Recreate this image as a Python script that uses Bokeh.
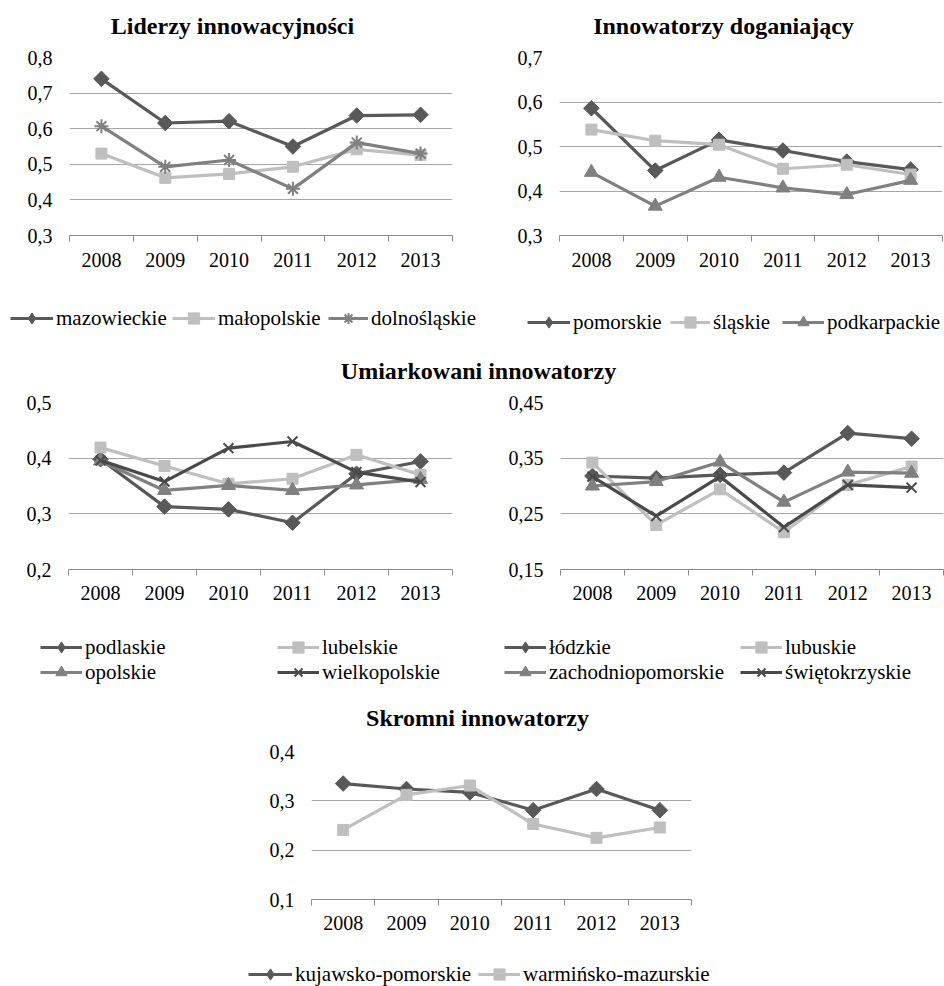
import math

from bokeh.core.properties import value
from bokeh.embed import file_html
from bokeh.layouts import column, row
from bokeh.models import (CustomJSTickFormatter, FixedTicker, Label, Legend,
                          LegendItem, Range1d)
from bokeh.plotting import figure
from bokeh.resources import INLINE

# ---------------------------------------------------------------- data
years = [2008, 2009, 2010, 2011, 2012, 2013]

# Liderzy innowacyjności
mazowieckie = [0.740, 0.616, 0.621, 0.550, 0.637, 0.639]
malopolskie = [0.530, 0.462, 0.473, 0.493, 0.542, 0.526]
dolnoslaskie = [0.607, 0.493, 0.512, 0.431, 0.561, 0.530]

# Innowatorzy doganiający
pomorskie = [0.586, 0.446, 0.515, 0.491, 0.466, 0.448]
slaskie = [0.538, 0.513, 0.504, 0.450, 0.459, 0.437]
podkarpackie = [0.442, 0.366, 0.431, 0.407, 0.392, 0.424]

# Umiarkowani innowatorzy (left)
podlaskie = [0.398, 0.313, 0.308, 0.284, 0.372, 0.394]
lubelskie = [0.419, 0.386, 0.354, 0.363, 0.406, 0.370]
opolskie = [0.395, 0.342, 0.351, 0.342, 0.352, 0.362]
wielkopolskie = [0.396, 0.358, 0.418, 0.430, 0.375, 0.357]

# Umiarkowani innowatorzy (right)
lodzkie = [0.318, 0.314, 0.320, 0.324, 0.395, 0.385]
lubuskie = [0.342, 0.230, 0.294, 0.217, 0.302, 0.335]
zachodniopomorskie = [0.300, 0.308, 0.343, 0.271, 0.325, 0.323]
swietokrzyskie = [0.317, 0.246, 0.317, 0.226, 0.302, 0.297]

# Skromni innowatorzy
kujawsko_pomorskie = [0.335, 0.324, 0.317, 0.281, 0.324, 0.281]
warminsko_mazurskie = [0.241, 0.312, 0.331, 0.253, 0.225, 0.246]

ticks_a = [0.3, 0.4, 0.5, 0.6, 0.7, 0.8]
ticks_b = [0.3, 0.4, 0.5, 0.6, 0.7]
ticks_c = [0.2, 0.3, 0.4, 0.5]
ticks_d = [0.15, 0.25, 0.35, 0.45]
ticks_e = [0.1, 0.2, 0.3, 0.4]

# ---------------------------------------------------------------- style
FONT = "Liberation Serif"
DARK = "#595959"
DARKER = "#4a4a4a"
MID = "#808080"
LIGHT = "#bfbfbf"
GRID = "#a6a6a6"
AXIS = "#8c8c8c"
LINE_W = 3.2
KEY_H = 28
NAN = float("nan")


def make_panel(width, height, borders, ticks, decimals, xlabel_standoff):
    left, top, right, bottom = borders
    p = figure(width=width, height=height, title=None,
               output_backend="svg", toolbar_location=None,
               x_range=Range1d(years[0] - 0.5, years[-1] + 0.5),
               y_range=Range1d(ticks[0], ticks[-1]),
               min_border_left=left, min_border_top=top,
               min_border_right=right, min_border_bottom=bottom)
    p.outline_line_color = None
    p.background_fill_color = "white"

    xa = p.xaxis[0]
    edges = [y - 0.5 for y in years] + [years[-1] + 0.5]
    xa.ticker = FixedTicker(ticks=years, minor_ticks=edges)
    xa.formatter = CustomJSTickFormatter(code="return tick.toFixed(0)")
    xa.major_tick_in = 0
    xa.major_tick_out = 0
    xa.minor_tick_in = 0
    xa.minor_tick_out = 6
    xa.minor_tick_line_color = AXIS
    xa.axis_line_color = AXIS
    xa.axis_line_width = 1
    xa.major_label_text_font = FONT
    xa.major_label_text_font_size = "20px"
    xa.major_label_text_color = "black"
    xa.major_label_standoff = xlabel_standoff

    ya = p.yaxis[0]
    ya.ticker = FixedTicker(ticks=ticks)
    ya.formatter = CustomJSTickFormatter(
        code="return tick.toFixed(%d).replace('.', ',')" % decimals)
    ya.axis_line_color = None
    ya.major_tick_line_color = None
    ya.minor_tick_line_color = None
    ya.major_label_text_font = FONT
    ya.major_label_text_font_size = "20px"
    ya.major_label_text_color = "black"
    ya.major_label_standoff = 11

    p.xgrid.visible = False
    p.ygrid[0].ticker = FixedTicker(ticks=ticks)
    p.ygrid.grid_line_color = GRID
    p.ygrid.grid_line_width = 1
    return p


def marker_kwargs(marker, color):
    if marker == "diamond":
        return dict(marker="square", size=11, angle=math.pi / 4,
                    fill_color=color, line_color=color)
    if marker in ("asterisk", "x"):
        return dict(marker=marker, size=14, line_color=color, line_width=2)
    if marker == "triangle":
        return dict(marker="triangle", size=14, fill_color=color,
                    line_color=color)
    return dict(marker=marker, size=11, fill_color=color, line_color=color)


def add_series(p, vals, color, marker):
    p.line(years, vals, line_color=color, line_width=LINE_W)
    p.scatter(years, vals, **marker_kwargs(marker, color))


def strip(height):
    s = figure(width=944, height=height, title=None, output_backend="svg",
               toolbar_location=None, x_axis_type=None, y_axis_type=None,
               x_range=Range1d(0, 1), y_range=Range1d(0, 1), min_border=0)
    s.outline_line_color = None
    s.xgrid.visible = False
    s.ygrid.visible = False
    s.background_fill_color = "white"
    return s


def add_title(s, text, x, y):
    # x, y: centre of the text, measured from the strip's top-left corner
    s.add_layout(Label(x=x, y=s.height - y, x_units="screen", y_units="screen",
                       text=text, text_align="center", text_baseline="middle",
                       text_font=FONT, text_font_size="24px",
                       text_font_style="bold", text_color="black"))


def add_key(s, text, color, marker, x, y, glyph_w):
    # swatch for one series: line with its marker, key starts at x, centred on y
    ln = s.line([NAN, NAN], [NAN, NAN], line_color=color, line_width=LINE_W)
    kw = marker_kwargs(marker, color)
    if marker == "diamond":
        kw = dict(marker="diamond", size=12, fill_color=color, line_color=color)
    sc = s.scatter([NAN], [NAN], **kw)
    leg = Legend(items=[LegendItem(label=value(text), renderers=[ln, sc])],
                 location=(x, s.height - (y + KEY_H / 2)),
                 orientation="vertical", padding=0, margin=0, spacing=0,
                 border_line_color=None, background_fill_alpha=0,
                 glyph_width=glyph_w, glyph_height=KEY_H, label_height=KEY_H,
                 label_standoff=3, label_text_font=FONT,
                 label_text_font_size="21px", label_text_color="black",
                 label_text_baseline="middle")
    s.add_layout(leg)


# ---------------------------------------------------------------- top pair
t1 = strip(45)
add_title(t1, "Liderzy innowacyjności", 232, 25)
add_title(t1, "Innowatorzy doganiający", 723, 25)

pa = make_panel(472, 250, (69, 12, 20, 60), ticks_a, 1, 11)
add_series(pa, mazowieckie, DARK, "diamond")
add_series(pa, malopolskie, LIGHT, "square")
add_series(pa, dolnoslaskie, MID, "asterisk")

pb = make_panel(472, 250, (87, 12, 2, 60), ticks_b, 1, 11)
add_series(pb, pomorskie, DARK, "diamond")
add_series(pb, slaskie, LIGHT, "square")
add_series(pb, podkarpackie, MID, "triangle")

k1 = strip(50)
add_key(k1, "mazowieckie", DARK, "diamond", 10, 23, 43)
add_key(k1, "małopolskie", LIGHT, "square", 172, 23, 43)
add_key(k1, "dolnośląskie", MID, "asterisk", 328, 23, 40)
add_key(k1, "pomorskie", DARK, "diamond", 527, 27, 43)
add_key(k1, "śląskie", LIGHT, "square", 670, 27, 40)
add_key(k1, "podkarpackie", MID, "triangle", 782, 27, 42)

# ---------------------------------------------------------------- middle pair
t2 = strip(45)
add_title(t2, "Umiarkowani innowatorzy", 478, 25)

pc = make_panel(472, 235, (68, 12, 20, 56), ticks_c, 1, 10)
add_series(pc, podlaskie, DARK, "diamond")
add_series(pc, lubelskie, LIGHT, "square")
add_series(pc, opolskie, MID, "triangle")
add_series(pc, wielkopolskie, DARKER, "x")

pd = make_panel(472, 235, (88, 12, 1, 56), ticks_d, 2, 10)
add_series(pd, lodzkie, DARK, "diamond")
add_series(pd, lubuskie, LIGHT, "square")
add_series(pd, zachodniopomorskie, MID, "triangle")
add_series(pd, swietokrzyskie, DARKER, "x")

k2 = strip(75)
add_key(k2, "podlaskie", DARK, "diamond", 40, 22, 42)
add_key(k2, "lubelskie", LIGHT, "square", 277, 22, 42)
add_key(k2, "łódzkie", DARK, "diamond", 504, 22, 42)
add_key(k2, "lubuskie", LIGHT, "square", 740, 22, 42)
add_key(k2, "opolskie", MID, "triangle", 40, 47, 42)
add_key(k2, "wielkopolskie", DARKER, "x", 277, 47, 42)
add_key(k2, "zachodniopomorskie", MID, "triangle", 504, 47, 42)
add_key(k2, "świętokrzyskie", DARKER, "x", 740, 47, 42)

# ---------------------------------------------------------------- bottom chart
t3 = strip(35)
add_title(t3, "Skromni innowatorzy", 477, 17)

pe = make_panel(944, 215, (311, 16, 253, 51), ticks_e, 1, 10)
add_series(pe, kujawsko_pomorskie, DARK, "diamond")
add_series(pe, warminsko_mazurskie, LIGHT, "square")

k3 = strip(36)
add_key(k3, "kujawsko-pomorskie", DARK, "diamond", 248, 24, 44)
add_key(k3, "warmińsko-mazurskie", LIGHT, "square", 478, 24, 42)

layout = column(row(t1), row(pa, pb), row(k1),
                row(t2), row(pc, pd), row(k2),
                row(t3), row(pe), row(k3))

with open("out.html", "w") as f:
    f.write(file_html(layout, INLINE, title="Innowacyjność regionów"))
